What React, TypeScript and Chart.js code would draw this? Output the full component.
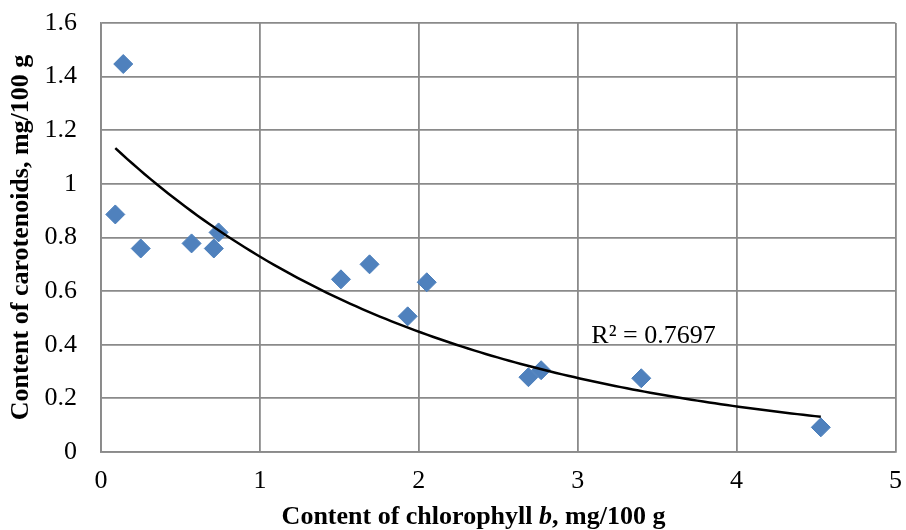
import React, { useEffect, useRef } from "react";
import { Chart, registerables } from "chart.js";

Chart.register(...registerables);

// Data
const chlorophyllB = [0.14, 0.09, 0.25, 0.57, 0.71, 0.74, 1.51, 1.69, 1.93, 2.05, 2.69, 2.77, 3.4, 4.53];
const carotenoids = [1.447, 0.886, 0.759, 0.778, 0.759, 0.819, 0.644, 0.7, 0.506, 0.633, 0.279, 0.305, 0.275, 0.092];
const xTicks = [0, 1, 2, 3, 4, 5];
const yTicks = [0, 0.2, 0.4, 0.6, 0.8, 1, 1.2, 1.4, 1.6];
const r2Label = "R² = 0.7697";
const r2Anchor = { x: 3.086, y: 0.4056 };

const FONT = '"Liberation Serif", "Times New Roman", serif';

// Exponential trendline y = a * e^(b x), least squares on ln(y) (as Excel does)
function expFit(xs: number[], ys: number[]) {
  const n = xs.length;
  const ly = ys.map((v) => Math.log(v));
  const mx = xs.reduce((s, v) => s + v, 0) / n;
  const my = ly.reduce((s, v) => s + v, 0) / n;
  let sxy = 0, sxx = 0;
  for (let i = 0; i < n; i++) {
    sxy += (xs[i] - mx) * (ly[i] - my);
    sxx += (xs[i] - mx) * (xs[i] - mx);
  }
  const b = sxy / sxx;
  const a = Math.exp(my - b * mx);
  return { a, b };
}

function zeroPadding(s: any) {
  s.paddingTop = 0;
  s.paddingBottom = 0;
  s.paddingLeft = 0;
  s.paddingRight = 0;
}

export default function App() {
  const ref = useRef<HTMLCanvasElement | null>(null);

  useEffect(() => {
    if (!ref.current) return;
    const { a, b } = expFit(chlorophyllB, carotenoids);
    const xmin = Math.min(...chlorophyllB);
    const xmax = Math.max(...chlorophyllB);
    const steps = 120;
    const trend = [] as { x: number; y: number }[];
    for (let i = 0; i <= steps; i++) {
      const x = xmin + ((xmax - xmin) * i) / steps;
      trend.push({ x, y: a * Math.exp(b * x) });
    }
    const points = chlorophyllB.map((x, i) => ({ x, y: carotenoids[i] }));

    const overlay = {
      id: "overlay",
      afterDraw(chart: any) {
        const ctx = chart.ctx;
        const xs = chart.scales.x;
        const ys = chart.scales.y;
        ctx.save();
        ctx.fillStyle = "#000";
        ctx.font = `26px ${FONT}`;
        ctx.textAlign = "left";
        ctx.textBaseline = "alphabetic";
        ctx.fillText(r2Label, xs.getPixelForValue(r2Anchor.x), ys.getPixelForValue(r2Anchor.y));
        const parts = [
          { t: "Content of chlorophyll ", f: `bold 26px ${FONT}` },
          { t: "b", f: `italic bold 26px ${FONT}` },
          { t: ", mg/100 g", f: `bold 26px ${FONT}` },
        ];
        let total = 0;
        const widths = parts.map((p) => {
          ctx.font = p.f;
          const w = ctx.measureText(p.t).width;
          total += w;
          return w;
        });
        let x = 473.5 - total / 2;
        const y = 524;
        parts.forEach((p, i) => {
          ctx.font = p.f;
          ctx.fillText(p.t, x, y);
          x += widths[i];
        });
        ctx.restore();
      },
    };

    const chart = new Chart(ref.current, {
      type: "scatter",
      data: {
        datasets: [
          {
            label: "trend",
            data: trend,
            showLine: true,
            borderColor: "#000000",
            borderWidth: 2.5,
            pointRadius: 0,
            fill: false,
            tension: 0,
            order: 0,
          } as any,
          {
            label: "points",
            data: points,
            pointStyle: "rectRot",
            pointRadius: 9.5,
            backgroundColor: "#4f81bd",
            borderColor: "#4a7ebb",
            borderWidth: 1,
            order: 1,
          } as any,
        ],
      },
      options: {
        animation: false,
        responsive: false,
        layout: { padding: { top: 23, right: 10, left: 0, bottom: 0 } },
        plugins: { legend: { display: false }, tooltip: { enabled: false } },
        scales: {
          x: {
            type: "linear",
            min: 0,
            max: 5,
            afterFit: (s: any) => {
              s.height = 78;
              zeroPadding(s);
            },
            afterBuildTicks: (s: any) => {
              s.ticks = xTicks.map((v) => ({ value: v }));
            },
            ticks: {
              color: "#000",
              font: { family: FONT, size: 26 },
              padding: 14,
              callback: (v: any) => String(v),
            },
            grid: { color: "#8a8a8a", lineWidth: 1.8, drawTicks: false },
            border: { color: "#8a8a8a", width: 1.8 },
          },
          y: {
            type: "linear",
            min: 0,
            max: 1.6,
            afterFit: (s: any) => {
              s.width = 101;
              zeroPadding(s);
            },
            afterBuildTicks: (s: any) => {
              s.ticks = yTicks.map((v) => ({ value: v }));
            },
            ticks: {
              color: "#000",
              font: { family: FONT, size: 26 },
              padding: 24,
              callback: (v: any) => String(Math.round(v * 10) / 10),
            },
            grid: { color: "#8a8a8a", lineWidth: 1.8, drawTicks: false },
            border: { color: "#8a8a8a", width: 1.8 },
            title: {
              display: true,
              text: "Content of carotenoids, mg/100 g",
              color: "#000",
              font: { family: FONT, size: 26, weight: "bold" },
              padding: { top: 6, bottom: 0 },
            },
          },
        },
      },
      plugins: [overlay],
    } as any);

    return () => chart.destroy();
  }, []);

  return (
    <div style={{ position: "absolute", left: 0, top: 0, width: 906, height: 530 }}>
      <canvas ref={ref} width={906} height={530} style={{ display: "block" }} />
    </div>
  );
}
